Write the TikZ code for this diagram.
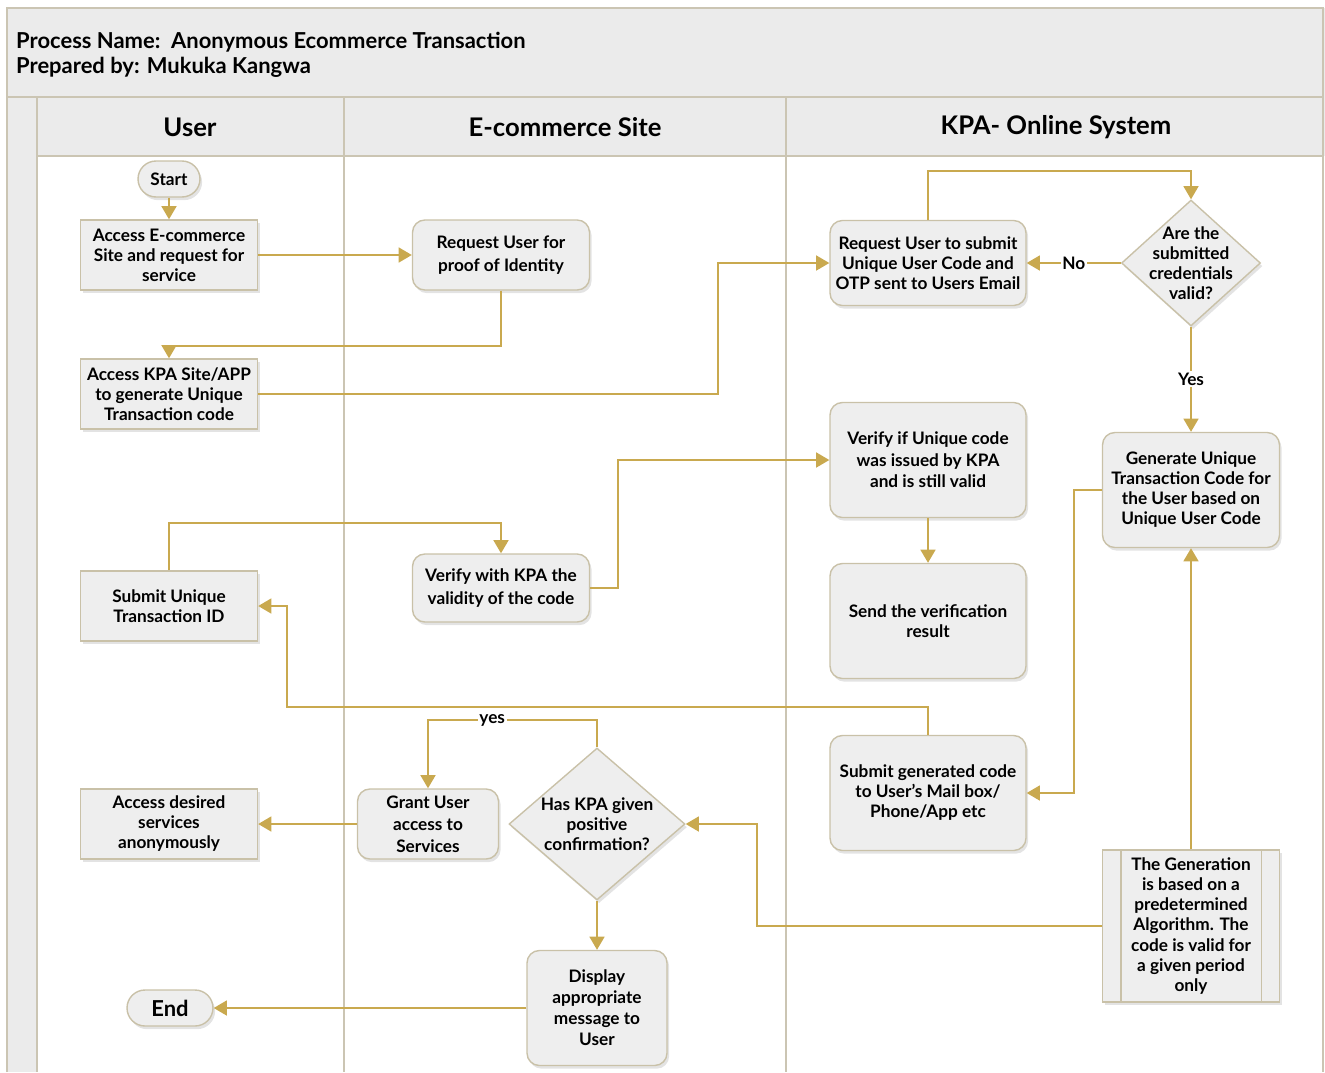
\documentclass[tikz,border=0pt]{standalone}
\usepackage{fontspec}
\setmainfont{Lato}
\usetikzlibrary{shapes.geometric,arrows.meta,positioning,calc,shadows}

\definecolor{flowgold}{HTML}{C9A94F}
\definecolor{lanetan}{HTML}{CBC5B3}
\definecolor{boxtan}{HTML}{C9C1A8}
\definecolor{boxgray}{HTML}{EEEEEE}
\definecolor{bandgray}{HTML}{EBEBEB}

\begin{document}
\begin{tikzpicture}[
  x=0.02cm, y=-0.02cm,
  font=\fontsize{9.8}{11.4}\selectfont\bfseries,
  >={Triangle[length=7.5pt, width=8.5pt]},
  lane/.style={draw=lanetan, line width=1.1pt},
  band/.style={fill=bandgray, draw=none},
  hdr/.style={font=\fontsize{14.6}{17}\selectfont\bfseries},
  shade/.style={drop shadow={opacity=0.22, shadow xshift=1.2pt, shadow yshift=-1.8pt}},
  act/.style={rectangle, draw=boxtan, fill=boxgray, line width=0.8pt, align=center,
              shade, inner sep=2pt, minimum width=3.54cm, minimum height=1.4cm},
  proc/.style={act, rounded corners=7pt},
  term/.style={act, rounded corners=0.36cm, minimum height=0.72cm},
  dec/.style={diamond, draw=boxtan, fill=boxgray, line width=0.8pt, shade, inner sep=0pt},
  dectext/.style={align=center},
  flow/.style={->, draw=flowgold, line width=1.1pt},
  lbl/.style={fill=white, inner sep=1pt},
]

\useasboundingbox (0,0) rectangle (1325,1072);

\def\la{37} \def\lb{344} \def\lc{786}

% frame and lanes
\fill[band] (7,8) rectangle (1325,97);
\fill[band] (7,97) rectangle (\la,1072);
\fill[band] (\la,97) rectangle (1325,156);
\draw[lane] (7,1072) -- (7,8) -- (1323,8) -- (1323,1072);
\draw[lane] (7,97) -- (1323,97);
\draw[lane] (\la,156) -- (1323,156);
\draw[lane] (\la,97) -- (\la,1072);
\draw[lane] (\lb,97) -- (\lb,1072);
\draw[lane] (\lc,97) -- (\lc,1072);

\node[anchor=west, align=left, font=\fontsize{12.5}{14.2}\selectfont\bfseries] (title) at (10,55)
  {Process Name:~~Anonymous Ecommerce Transaction\\Prepared by: Mukuka Kangwa};
\node[hdr] (huser) at (190,127) {User};
\node[hdr] (hsite) at (565,127) {E-commerce Site};
\node[hdr] (hkpa)  at (1056,127) {KPA- Online System};

% user lane
\node[term, minimum width=1.24cm] (start) at (169,179) {Start};
\node[act] (access) at (169,255) {Access E-commerce\\Site and request for\\service};
\node[act] (kpasite) at (169,394) {Access KPA Site/APP\\to generate Unique\\Transaction code};
\node[act] (subid) at (169,606) {Submit Unique\\Transaction ID};
\node[act] (desired) at (169,824) {Access desired\\services\\anonymously};
\node[term, minimum width=1.72cm, font=\fontsize{12.5}{14}\selectfont\bfseries] (fin) at (170,1008) {End};

% e-commerce lane
\node[proc, font=\fontsize{9.8}{13.5}\selectfont\bfseries] (reqid) at (501,255) {Request User for\\proof of Identity};
\node[proc, minimum height=1.36cm, font=\fontsize{9.8}{13.5}\selectfont\bfseries] (verify) at (501,588) {Verify with KPA the\\validity of the code};
\node[proc, minimum width=2.82cm, font=\fontsize{9.8}{12.5}\selectfont\bfseries] (grant) at (428,824) {Grant User\\access to\\Services};
\node[dec, minimum width=3.52cm, minimum height=3.04cm,
      label={[dectext]center:Has KPA given\\positive\\confirmation?}] (posconf) at (597,824) {};
\node[proc, minimum width=2.8cm, minimum height=2.3cm, font=\fontsize{9.8}{12}\selectfont\bfseries] (disp) at (597,1008) {Display\\appropriate\\message to\\User};

% kpa lane
\node[proc, minimum width=3.92cm, minimum height=1.7cm] (reqcode) at (928,263) {Request User to submit\\Unique User Code and\\OTP sent to Users Email};
\node[dec, minimum width=2.78cm, minimum height=2.52cm,
      label={[dectext]center:Are the\\submitted\\credentials\\valid?}] (valid) at (1191,263) {};
\node[proc, minimum height=2.3cm] (gen) at (1191,490) {Generate Unique\\Transaction Code for\\the User based on\\Unique User Code};
\node[proc, minimum width=3.92cm, minimum height=2.3cm, font=\fontsize{9.8}{12.3}\selectfont\bfseries] (checkkpa) at (928,460) {Verify if Unique code\\was issued by KPA\\and is still valid};
\node[proc, minimum width=3.92cm, minimum height=2.3cm] (sendres) at (928,621) {Send the verification\\result};
\node[proc, minimum width=3.92cm, minimum height=2.3cm] (subcode) at (928,793) {Submit generated code\\to User's Mail box/\\Phone/App etc};
\node[act, minimum height=3.04cm] (algo) at (1191,926) {The Generation\\is based on a\\predetermined\\Algorithm. The\\code is valid for\\a given period\\only};
\draw[draw=boxtan, line width=0.8pt] ([xshift=0.38cm]algo.north west) -- ([xshift=0.38cm]algo.south west);
\draw[draw=boxtan, line width=0.8pt] ([xshift=-0.38cm]algo.north east) -- ([xshift=-0.38cm]algo.south east);

% connectors
\draw[flow] (start) -- (access);
\draw[flow] (access) -- (reqid);
\draw[flow] (reqid.south) -- ++(0,55) -| (kpasite.north);
\draw[flow] (kpasite.east) -- ++(460,0) |- (reqcode.west);
\draw[flow] (reqcode.north) -- ++(0,-49) -| (valid.north);
\draw[flow] (valid.west) -- node[lbl]{No} (reqcode.east);
\draw[flow] (valid.south) -- node[lbl]{Yes} (gen.north);
\draw[flow] (gen.west) -- ++(-28,0) |- (subcode.east);
\draw[flow] (subcode.north) -- ++(0,-28) -| ($(subid.east)+(29,0)$) -- (subid.east);
\draw[flow] (subid.north) -- ++(0,-47) -| (verify.north);
\draw[flow] (verify.east) -- ++(28,0) |- (checkkpa.west);
\draw[flow] (checkkpa) -- (sendres);
\draw[flow] (algo) -- (gen);
\draw[flow] (algo.west) -| ($(posconf.east)+(71,0)$) -- (posconf.east);
\draw[flow] (posconf.north) -- ++(0,-27) -| node[lbl, pos=0.31]{yes} (grant.north);
\draw[flow] (grant) -- (desired);
\draw[flow] (posconf.south) -- (disp.north);
\draw[flow] (disp.west) -- (fin.east);

\end{tikzpicture}
\end{document}
